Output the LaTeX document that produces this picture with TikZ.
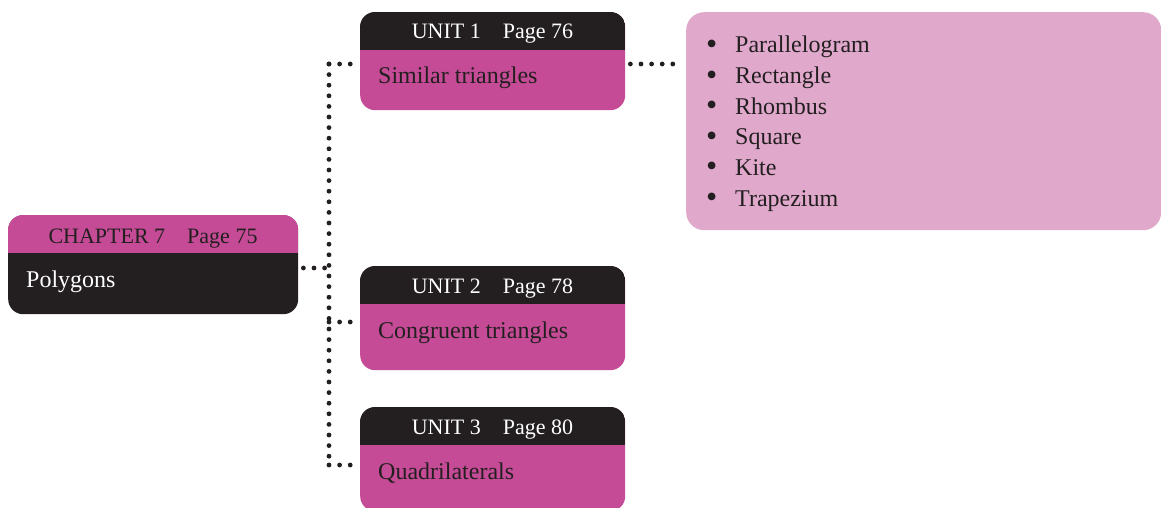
\documentclass[tikz,border=0pt]{standalone}
\usepackage{fontspec}
\setmainfont{Liberation Serif}
\definecolor{InkDark}{HTML}{231F20}
\definecolor{BookPink}{HTML}{C54B96}
\definecolor{ListPink}{HTML}{E0A9CC}
\usetikzlibrary{positioning}

\begin{document}
\begin{tikzpicture}[
  x=1pt, y=-1pt,
  card/.style={rounded corners=15pt, minimum width=265pt, inner sep=0pt, anchor=north west},
  head/.style={font=\fontsize{22}{28}\selectfont, inner sep=0pt, anchor=base},
  body/.style={font=\fontsize{24}{28}\selectfont, inner sep=0pt, anchor=base west},
  item/.style={font=\fontsize{24}{28}\selectfont, inner sep=0pt, anchor=base west, text=InkDark},
  dotline/.style={line width=4.8pt, line cap=round, dash pattern=on 0pt off 10.6pt, InkDark},
]
  \useasboundingbox (0,0) rectangle (1161,508);
  \clip (0,0) rectangle (1161,508);

  % chapter card
  \node[card, fill=InkDark, minimum width=290pt, minimum height=99pt] (chap) at (8,215) {};
  \begin{scope}
    \clip[rounded corners=15pt] (chap.south west) rectangle (chap.north east);
    \fill[BookPink] (chap.north west) rectangle ([yshift=-38pt]chap.north east);
  \end{scope}
  \node[head, text=InkDark] (chaphead) at (153,243) {CHAPTER 7\quad Page 75};
  \node[body, text=white] (chaptxt) at (26,287) {Polygons};

  % unit cards
  \foreach \i/\top/\ht/\hk/\pg/\txt in {1/12/98/64/76/Similar triangles,
                                        2/266/104/322/78/Congruent triangles,
                                        3/407/104/465/80/Quadrilaterals}{
    \node[card, fill=BookPink, minimum height=\ht pt] (unit\i) at (360,\top) {};
    \begin{scope}
      \clip[rounded corners=15pt] (unit\i.south west) rectangle (unit\i.north east);
      \fill[InkDark] (unit\i.north west) rectangle ([yshift=-38pt]unit\i.north east);
    \end{scope}
    \node[head, text=white] (head\i) at (492.5,\top+27) {UNIT \i\quad Page \pg};
    \node[body, text=InkDark] (txt\i) at (378,\top+72) {\txt};
    \coordinate (hook\i) at (329,\hk);
  }

  % list of shapes
  \node[card, fill=ListPink, rounded corners=18pt, minimum width=475pt, minimum height=218pt] (shapes) at (686,12) {};
  \foreach \s [count=\k] in {Parallelogram, Rectangle, Rhombus, Square, Kite, Trapezium}
    \node[item] (item\k) at (706,{53+30.6*(\k-1)}) {\makebox[29pt][l]{\raisebox{-1.5pt}{\fontsize{32}{32}\selectfont\textbullet}}\s};

  % dotted connectors
  \coordinate (hook0) at (329,268);
  \draw[dotline, shorten <=5pt] (chap.east |- hook0) -- (hook0);
  \draw[dotline] (hook1) -- (hook3);
  \foreach \i in {1,2,3}
    \draw[dotline, shorten >=5pt] (hook\i) -- (unit\i.west |- hook\i);
  \draw[dotline, shorten <=5pt, shorten >=5pt] (unit1.east |- hook1) -- (shapes.west |- hook1);
\end{tikzpicture}
\end{document}
